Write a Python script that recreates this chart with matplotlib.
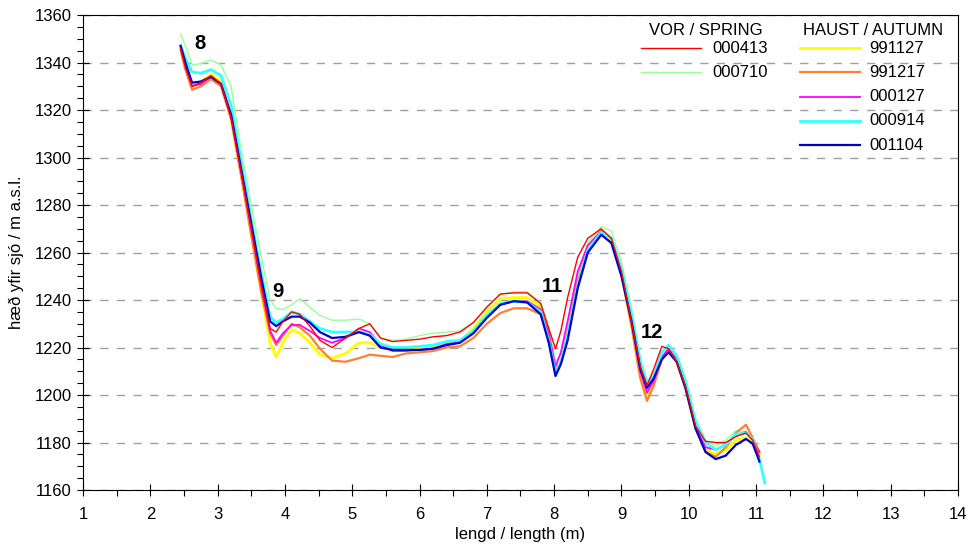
import numpy as np
import matplotlib.pyplot as plt
from matplotlib.ticker import MultipleLocator
from matplotlib.lines import Line2D

plt.rcParams['font.family'] = ['Liberation Sans', 'DejaVu Sans']

nan = np.nan

# lengd / length (m)
length_m = [2.45, 2.52, 2.62, 2.75, 2.9, 3.05, 3.2, 3.35, 3.5, 3.65,
            3.78, 3.87, 3.97, 4.1, 4.22, 4.37, 4.52, 4.7, 4.9, 5.1,
            5.26, 5.42, 5.6, 5.8, 6.0, 6.2, 6.4, 6.6, 6.8, 7.0,
            7.2, 7.4, 7.6, 7.8, 7.92, 8.02, 8.1, 8.2, 8.35, 8.5,
            8.7, 8.85, 9.0, 9.15, 9.28, 9.38, 9.48, 9.6, 9.7, 9.82,
            9.95, 10.1, 10.25, 10.4, 10.55, 10.7, 10.85, 10.95, 11.05, 11.13]

# VOR / SPRING
s000413 = [1346, 1338, 1330, 1331.5, 1334.5, 1331, 1317, 1294, 1270, 1246,
           1228, 1226.5, 1231, 1235, 1234, 1229, 1223, 1220, 1224, 1228,
           1230, 1224, 1222.5, 1223, 1223.5, 1224.5, 1225, 1226.5, 1230.5, 1237,
           1242.5, 1243, 1243, 1238.5, 1228, 1219.5, 1227, 1241, 1258, 1266,
           1270, 1266, 1252, 1231, 1212, 1204, 1211, 1220.5, 1219.5, 1214,
           1204, 1187, 1180.5, 1180, 1180, 1182.5, 1184, 1181, 1174, nan]
s000710 = [1352, 1347, 1339, 1339.5, 1341, 1339, 1330, 1303, 1280, 1258,
           1240, 1236.5, 1236, 1238, 1240.5, 1237, 1233.5, 1231.5, 1231.5, 1232,
           1230, 1224, 1223, 1223.5, 1225, 1226, 1226.5, 1227, 1230.5, 1237,
           1242.5, 1243.5, 1243.5, 1239, 1229, 1214, 1217, 1228, 1250, 1264,
           1271, 1269, 1256, 1236, 1216, 1205.5, 1209, 1218, 1221, 1217,
           1207, 1190, 1181, 1178.5, 1181, 1185, 1184.5, 1182, nan, nan]

# HAUST / AUTUMN
s991127 = [1346, 1339, 1330.5, 1331.5, 1335, 1332, 1317, 1293, 1268, 1243,
           1222, 1216, 1222, 1227.5, 1226, 1222, 1217, 1215.5, 1217.5, 1222,
           1222, 1220, 1219.5, 1219.5, 1219.5, 1220, 1221.5, 1222.5, 1228, 1235,
           1240.5, 1241, 1241, 1237, 1225, 1210, 1214, 1225, 1247, 1261,
           1269, 1265, 1251, 1229, 1208, 1198.5, 1205, 1215, 1218.5, 1214,
           1203, 1186, 1177, 1175, 1177, 1181, 1182, 1180, 1175, nan]
s991217 = [1345, 1337, 1328.5, 1330, 1333, 1330, 1316, 1292, 1267, 1243,
           1226, 1221, 1225, 1230, 1228.5, 1225, 1219.5, 1214.5, 1214, 1215.5,
           1217, 1216.5, 1216, 1217.5, 1218, 1218.5, 1220, 1220.5, 1224, 1230,
           1234.5, 1236.5, 1236.5, 1234, 1224, 1210, 1214, 1226, 1248, 1261,
           1269, 1266, 1251, 1229, 1207, 1197.5, 1204, 1215, 1219, 1215,
           1204, 1186, 1176, 1174, 1178, 1184, 1187.5, 1182, 1176, nan]
s000127 = [1346, 1339, 1330, 1331, 1334, 1331, 1317, 1294, 1270, 1246,
           1227, 1222, 1226, 1229.5, 1229.5, 1227, 1224, 1222, 1224, 1228,
           1226.5, 1221, 1218.5, 1218.5, 1219, 1219.5, 1221.5, 1222.5, 1226.5, 1233,
           1238, 1239.5, 1239.5, 1236, 1226, 1212, 1218, 1231, 1252, 1263,
           1269, 1266, 1252, 1231, 1210, 1201, 1206, 1216, 1219.5, 1215,
           1205, 1187, 1178, 1177, 1179, 1183, 1184.5, 1181, 1176, nan]
s000914 = [1347, 1342, 1336, 1335.5, 1337, 1334.5, 1322, 1298, 1274, 1251,
           1233, 1230.5, 1232, 1235, 1234, 1231, 1228, 1226.5, 1226.5, 1226.5,
           1225.5, 1221.5, 1220, 1220, 1220.5, 1221, 1222.5, 1223, 1227, 1233.5,
           1238.5, 1239.5, 1239, 1235, 1223, 1209, 1214, 1225, 1246, 1261,
           1268.5, 1266, 1253, 1234, 1214, 1205, 1208, 1218, 1221, 1216.5,
           1206, 1189, 1180, 1177, 1179, 1183.5, 1184, 1181.5, 1173, 1163]
s001104 = [1347, 1340, 1331.5, 1332, 1334, 1331, 1318, 1295, 1272, 1249,
           1231, 1229, 1231, 1233, 1233, 1230.5, 1226.5, 1224, 1224.5, 1226.5,
           1225, 1220, 1219, 1219, 1219, 1219.5, 1221, 1222, 1226, 1232.5,
           1238, 1239.5, 1239, 1234, 1222, 1208, 1213, 1223, 1245, 1260,
           1267.5, 1264, 1250, 1231, 1211, 1203, 1207, 1215, 1218, 1214,
           1203, 1186, 1176, 1173, 1174.5, 1179, 1181.5, 1179.5, 1172, nan]

spring_names = ['000413', '000710']
spring_data = [s000413, s000710]
spring_colors = ['#ff0000', '#99ff99']

autumn_names = ['991127', '991217', '000127', '000914', '001104']
autumn_data = [s991127, s991217, s000127, s000914, s001104]
autumn_colors = ['#ffff00', '#ff8033', '#ff00ff', '#33ffff', '#0000cc']
autumn_widths = [2.0, 1.6, 1.3, 2.0, 1.6]

# section labels
sections = ['8', '9', '11', '12']
sec_x = [2.74, 3.9, 7.97, 9.45]
sec_y = [1348, 1243.5, 1245.5, 1226.5]

fs = 12

fig = plt.figure(figsize=(9.69, 5.48), dpi=100)
ax = fig.add_axes([0.0857, 0.1058, 0.9029, 0.8668])

x = np.array(length_m)
ax.plot(x, spring_data[1], color=spring_colors[1], lw=1.0)
for y, c, w in zip(autumn_data, autumn_colors, autumn_widths):
    ax.plot(x, y, color=c, lw=w)
ax.plot(x, spring_data[0], color=spring_colors[0], lw=1.0)

for t, tx, ty in zip(sections, sec_x, sec_y):
    ax.text(tx, ty, t, fontsize=14.5, fontweight='bold', ha='center', va='center')

ax.set_xlim(1, 14)
ax.set_ylim(1160, 1360)
ax.xaxis.set_major_locator(MultipleLocator(1))
ax.xaxis.set_minor_locator(MultipleLocator(0.5))
ax.yaxis.set_major_locator(MultipleLocator(20))
ax.yaxis.set_minor_locator(MultipleLocator(5))
ax.tick_params(which='major', direction='inout', length=9, width=0.8, labelsize=fs)
ax.tick_params(which='minor', direction='out', length=4, width=0.8)
ax.tick_params(axis='x', pad=8)
ax.grid(axis='y', which='major', color='#a0a0a0', linestyle=(0, (6, 6)), lw=1.0)
for sp in ax.spines.values():
    sp.set_linewidth(0.8)

ax.set_xlabel('lengd / length (m)', fontsize=fs, labelpad=3)
ax.set_ylabel('hæð yfir sjó / m a.s.l.', fontsize=fs, labelpad=8)

# legend, two columns with headers
rows = [0.930, 0.879, 0.828, 0.777, 0.726]
ax.text(0.712, 0.968, 'VOR / SPRING', transform=ax.transAxes, fontsize=fs,
        ha='center', va='center')
for r, n, c in zip(rows, spring_names, spring_colors):
    ax.add_line(Line2D([0.638, 0.706], [r, r], transform=ax.transAxes, color=c, lw=1.0))
    ax.text(0.719, r, n, transform=ax.transAxes, fontsize=fs, va='center')
ax.text(0.903, 0.968, 'HAUST / AUTUMN', transform=ax.transAxes, fontsize=fs,
        ha='center', va='center')
for r, n, c, w in zip(rows, autumn_names, autumn_colors, autumn_widths):
    ax.add_line(Line2D([0.819, 0.888], [r, r], transform=ax.transAxes, color=c, lw=w))
    ax.text(0.899, r, n, transform=ax.transAxes, fontsize=fs, va='center')

fig.savefig('out.png', dpi=100)
